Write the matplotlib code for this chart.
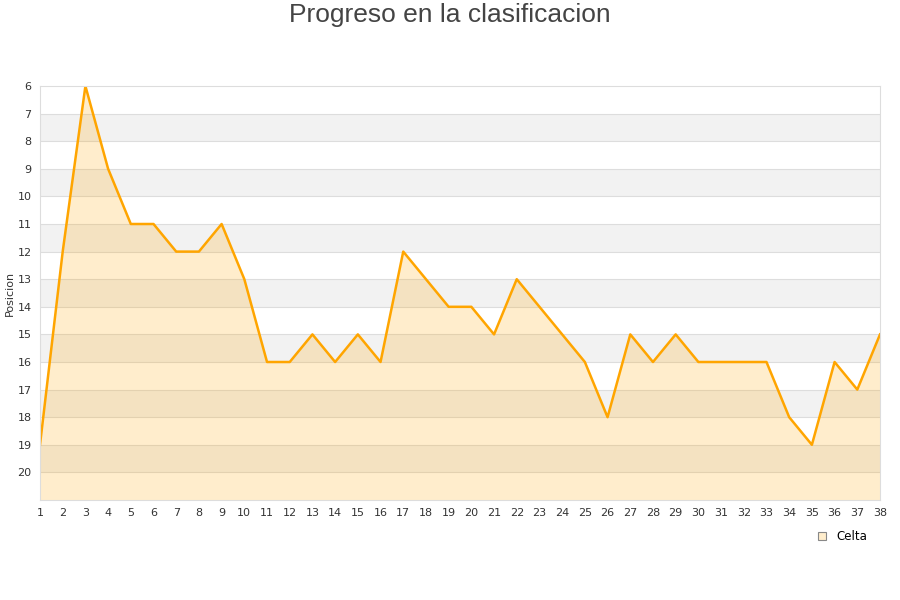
import matplotlib.pyplot as plt
from matplotlib.lines import Line2D

# Jornadas y posicion del Celta
jornadas = list(range(1, 39))
posiciones = [19, 12, 6, 9, 11, 11, 12, 12, 11, 13,
              16, 16, 15, 16, 15, 16, 12, 13, 14, 14,
              15, 13, 14, 15, 16, 18, 15, 16, 15, 16,
              16, 16, 16, 18, 19, 16, 17, 15]
y_ticks = list(range(6, 21))
equipo = "Celta"

fig = plt.figure(figsize=(9, 6), dpi=100)
ax = fig.add_axes([40 / 900, 100 / 600, 840 / 900, 414 / 600])

# alternating bands
for v in range(7, 21, 2):
    ax.axhspan(v, v + 1, color="#f2f2f2", zorder=0, lw=0)
for v in range(7, 21):
    ax.axhline(v, color="#dddddd", lw=0.8, zorder=0.5)

ax.fill_between(jornadas, posiciones, 21, color="#ffa500", alpha=0.2, lw=0, zorder=1)
ax.plot(jornadas, posiciones, color="#ffa500", lw=1.8, zorder=2)

ax.set_xlim(1, 38)
ax.set_ylim(21, 6)
ax.set_xticks(jornadas)
ax.set_yticks(y_ticks)
ax.tick_params(length=0, labelsize=8, colors="#333333", pad=6)
for s in ax.spines.values():
    s.set_color("#dddddd")

ax.set_ylabel("Posicion", fontsize=8, color="#333333", labelpad=2)
fig.suptitle("Progreso en la clasificacion", fontsize=19, color="#444444",
             family="Liberation Sans", y=0.995)

handle = Line2D([], [], ls="none", marker="s", markersize=6,
                markerfacecolor="#ffedcc", markeredgecolor="#888888", markeredgewidth=0.8)
fig.legend([handle], [equipo], loc="center", bbox_to_anchor=(0.935, 0.105),
           frameon=False, fontsize=8.5, handletextpad=0.7, handlelength=1)

fig.savefig("out.png")
